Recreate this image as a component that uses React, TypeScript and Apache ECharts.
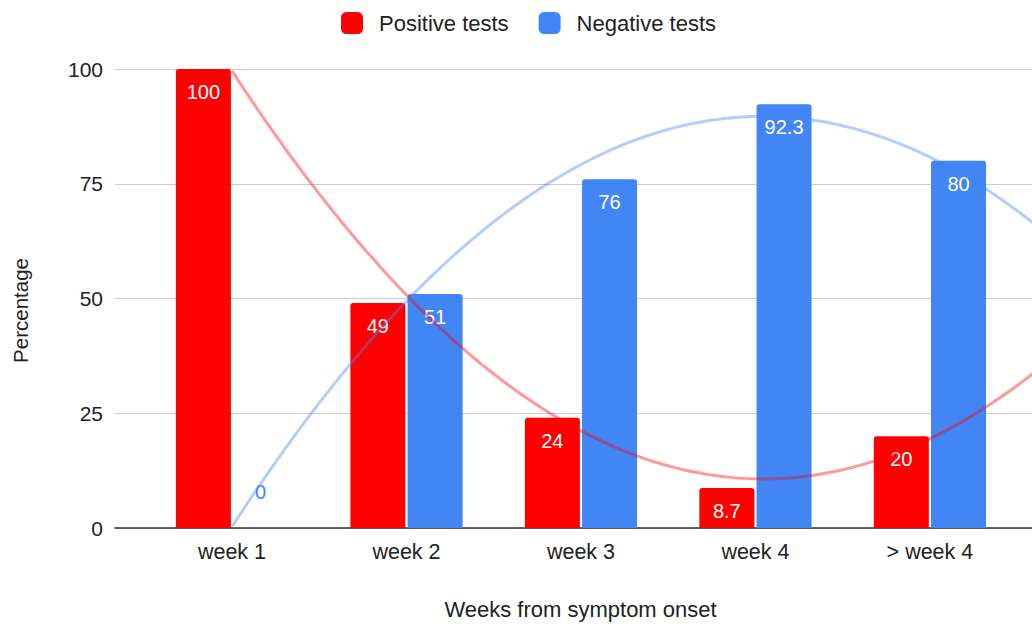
import React, { useEffect, useRef } from "react";
import * as echarts from "echarts";

const categories = ["week 1", "week 2", "week 3", "week 4", "> week 4"];
const positiveTests = [100, 49, 24, 8.7, 20];
const negativeTests = [0, 51, 76, 92.3, 80];
const yTicks = [0, 25, 50, 75, 100];

const RED = "#ff0000";
const BLUE = "#4285f4";
const FONT = "'Liberation Sans', Arial, sans-serif";
const TEXT = "#222222";

// least-squares quadratic fit (polynomial trendline, degree 2)
function quadFit(ys: number[]) {
  const xs = ys.map((_, i) => i);
  const S = (f: (x: number, y: number) => number) =>
    xs.reduce((a, x, i) => a + f(x, ys[i]), 0);
  const n = xs.length;
  const sx = S((x) => x), sx2 = S((x) => x * x), sx3 = S((x) => x ** 3), sx4 = S((x) => x ** 4);
  const sy = S((_, y) => y), sxy = S((x, y) => x * y), sx2y = S((x, y) => x * x * y);
  const M = [
    [n, sx, sx2, sy],
    [sx, sx2, sx3, sxy],
    [sx2, sx3, sx4, sx2y],
  ];
  for (let c = 0; c < 3; c++) {
    for (let r = c + 1; r < 3; r++) {
      const f = M[r][c] / M[c][c];
      for (let k = c; k < 4; k++) M[r][k] -= f * M[c][k];
    }
  }
  const s = [0, 0, 0];
  for (let r = 2; r >= 0; r--) {
    let v = M[r][3];
    for (let k = r + 1; k < 3; k++) v -= M[r][k] * s[k];
    s[r] = v / M[r][r];
  }
  return (x: number) => s[0] + s[1] * x + s[2] * x * x;
}

const X_MIN = -0.6705;
const X_MAX = 4.585;

function trend(ys: number[]) {
  const f = quadFit(ys);
  const pts: number[][] = [];
  const steps = 120;
  for (let i = 0; i <= steps; i++) {
    const x = (X_MAX + 0.05) * (i / steps);
    pts.push([x, f(x)]);
  }
  return pts;
}

export default function App() {
  const ref = useRef<HTMLDivElement>(null);
  useEffect(() => {
    if (!ref.current) return;
    const chart = echarts.init(ref.current, undefined, { renderer: "svg" });
    chart.setOption({
      animation: false,
      backgroundColor: "#ffffff",
      textStyle: { fontFamily: FONT },
      legend: {
        data: ["Positive tests", "Negative tests"],
        left: 336,
        top: 7,
        itemWidth: 22,
        itemHeight: 22,
        itemGap: 30,
        icon: "roundRect",
        textStyle: { fontSize: 22, color: TEXT, fontFamily: FONT, padding: [0, 0, 0, 11] },
      },
      grid: { left: 115, right: 0, top: 69, bottom: 101 },
      xAxis: {
        type: "value",
        min: X_MIN,
        max: X_MAX,
        name: "Weeks from symptom onset",
        nameLocation: "middle",
        nameGap: 70,
        nameTextStyle: { fontSize: 22, color: TEXT, fontFamily: FONT, padding: [0, 0, 0, 14] },
        axisLine: { show: true, onZero: true, lineStyle: { color: "#333", width: 1.5 } },
        axisTick: { show: false },
        splitLine: { show: false },
        axisLabel: {
          customValues: [0, 1, 2, 3, 4],
          formatter: (v: number) => categories[Math.round(v)] ?? "",
          fontSize: 21.5,
          color: TEXT,
          fontFamily: FONT,
          margin: 13,
        },
      },
      yAxis: {
        type: "value",
        min: 0,
        max: 100,
        interval: 25,
        name: "Percentage",
        nameLocation: "middle",
        nameGap: 84,
        nameTextStyle: { fontSize: 20.5, color: TEXT, fontFamily: FONT, padding: [0, 24, 0, 0] },
        axisLine: { show: false },
        axisTick: { show: false },
        splitLine: { lineStyle: { color: "#cccccc", width: 1 } },
        axisLabel: {
          fontSize: 21,
          color: TEXT,
          fontFamily: FONT,
          margin: 12,
          formatter: (v: number) => (yTicks.includes(v) ? String(v) : ""),
        },
      },
      series: [
        {
          name: "Positive tests",
          type: "bar",
          barWidth: 55,
          barGap: "4%",
          itemStyle: { color: RED, borderRadius: [3, 3, 0, 0] },
          label: {
            show: true,
            position: "insideTop",
            distance: 13,
            color: "#fff",
            fontSize: 20,
            fontFamily: FONT,
          },
          data: positiveTests.map((v, i) => [i, v]),
          z: 2,
        },
        {
          name: "Negative tests",
          type: "bar",
          barWidth: 55,
          barGap: "4%",
          itemStyle: { color: BLUE, borderRadius: [3, 3, 0, 0] },
          label: {
            show: true,
            position: "insideTop",
            distance: 13,
            color: "#fff",
            fontSize: 20,
            fontFamily: FONT,
          },
          data: negativeTests.map((v, i) =>
            v === 0
              ? { value: [i, v], label: { position: "top", distance: 26, color: BLUE } }
              : [i, v]
          ),
          z: 2,
        },
        {
          name: "Positive trend",
          type: "line",
          data: trend(positiveTests),
          showSymbol: false,
          smooth: false,
          lineStyle: { color: RED, width: 3, opacity: 0.4 },
          z: 5,
          silent: true,
        },
        {
          name: "Negative trend",
          type: "line",
          data: trend(negativeTests),
          showSymbol: false,
          smooth: false,
          lineStyle: { color: BLUE, width: 3, opacity: 0.4 },
          z: 5,
          silent: true,
        },
      ],
    });
    return () => chart.dispose();
  }, []);
  return (
    <div
      ref={ref}
      style={{ position: "fixed", left: 0, top: 0, width: 1032, height: 629 }}
    />
  );
}
